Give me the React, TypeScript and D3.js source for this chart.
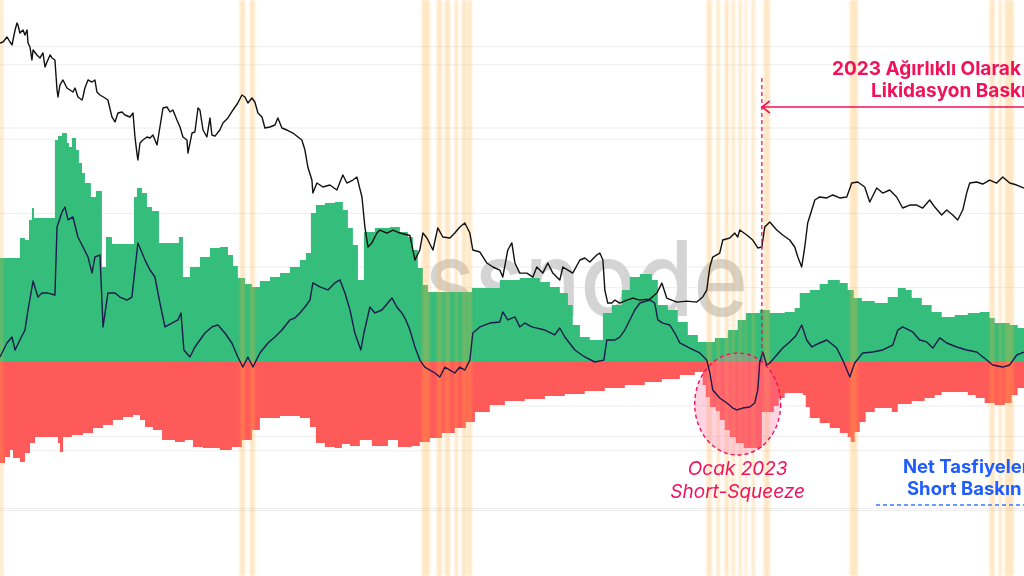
import * as d3 from "d3";
import { useEffect, useRef } from "react";

const W = 1024;
const H = 576;

// x axis runs in days counted from 2021-11-01
const DAY_SPAN = 632;

// BTC price, [day, usd]
const btcPrice: [number, number][] = [
  [0, 61100], [1.9, 61420], [4.3, 62980], [6.2, 61420], [7.4, 60510], [9.3, 65210],
  [10.5, 67530], [11.1, 66860], [12.3, 64240], [14.2, 65210], [15.4, 63600], [16.7, 65210],
  [17.3, 61110], [18.5, 59910], [19.7, 56150], [20.4, 59020], [22.8, 57570], [24.7, 56720],
  [26.5, 58150], [27.8, 54230], [29.0, 55590], [30.9, 57570], [32.1, 56720], [33.9, 56150],
  [35.2, 48350], [35.8, 46690], [37.0, 49570], [38.9, 50820], [41.3, 48830], [43.2, 48350],
  [45.0, 47870], [46.3, 48830], [48.1, 46690], [50.6, 46000], [51.2, 46690], [52.4, 48830],
  [54.3, 50820], [56.8, 50310], [58.6, 50820], [59.8, 47870], [61.7, 47160], [64.8, 46460],
  [66.6, 46000], [69.1, 42260], [71.0, 41220], [72.8, 43100], [75.3, 43330], [77.1, 42680],
  [80.2, 42260], [82.1, 43100], [83.3, 38250], [84.5, 35300], [85.1, 34100], [86.4, 37120],
  [88.2, 37680], [90.7, 38250], [92.6, 38060], [94.4, 38630], [96.9, 36750], [98.7, 40200],
  [100.6, 44200], [103.0, 44420], [104.9, 43330], [106.7, 43760], [109.2, 41630], [111.1, 40200],
  [112.9, 38250], [115.4, 37680], [116.0, 35300], [118.5, 39010], [120.3, 39210], [122.2, 44200],
  [123.4, 43760], [125.3, 39600], [127.7, 38250], [129.6, 42050], [130.8, 38630], [132.7, 38400],
  [135.7, 39600], [137.6, 41010], [140.7, 42050], [143.8, 43760], [146.8, 45310], [149.3, 47160],
  [151.2, 46690], [153.0, 45310], [155.5, 46460], [157.3, 45540], [159.2, 43100], [161.7, 42260],
  [163.5, 40000], [166.6, 40200], [169.7, 40600], [171.5, 42050], [174.0, 40000], [177.1, 39600],
  [180.8, 39010], [183.9, 38250], [186.3, 37680], [188.2, 35840], [190.0, 32930], [192.5, 30860],
  [193.1, 28920], [195.6, 30400], [199.3, 29800], [203.6, 30100], [207.9, 29360], [211.6, 31640],
  [214.1, 30400], [217.8, 30860], [220.3, 31320], [223.4, 28360], [225.2, 24420], [227.1, 22100],
  [229.5, 22550], [232.6, 23690], [234.5, 24050], [238.8, 23690], [242.5, 24050], [246.8, 23690],
  [253.0, 23400], [256.1, 20710], [259.1, 21770], [261.0, 23690], [263.5, 23110], [267.2, 21770],
  [270.2, 24300], [273.3, 23230], [277.7, 23110], [280.7, 23690], [283.8, 24420], [286.9, 24910],
  [290.0, 23690], [291.8, 21770], [296.2, 21550], [300.5, 20400], [304.2, 20000], [308.5, 19700],
  [310.3, 19020], [313.4, 21770], [315.9, 22550], [317.8, 20400], [320.8, 19400], [325.2, 19400],
  [328.9, 19020], [331.3, 20000], [335.0, 19400], [338.1, 20400], [341.2, 19400], [345.5, 18740],
  [347.4, 20000], [350.5, 19700], [353.5, 19400], [357.9, 20710], [360.9, 20920], [364.0, 20500],
  [368.3, 21230], [370.2, 21440], [372.1, 20710], [373.3, 17830], [375.1, 16710], [377.6, 16710],
  [379.5, 16960], [382.5, 16710], [386.9, 16960], [390.6, 17130], [394.9, 16960], [401.1, 17040],
  [405.4, 17560], [408.5, 18460], [411.5, 17130], [417.7, 16790], [423.9, 16870], [430.0, 16790],
  [433.7, 17220], [436.2, 17830], [438.1, 20000], [439.9, 21020], [444.2, 21440], [446.1, 22880],
  [450.4, 23110], [453.5, 23690], [455.3, 23230], [456.6, 24050], [460.9, 23460], [464.6, 22880],
  [467.7, 21990], [470.2, 22100], [472.0, 24420], [475.1, 25030], [479.4, 24050], [483.1, 23460],
  [487.4, 22880], [490.5, 22100], [492.4, 21020], [494.8, 20000], [496.7, 22100], [498.5, 24910],
  [501.0, 26570], [502.9, 27930], [505.9, 28360], [510.3, 28220], [514.0, 28640], [518.3, 28220],
  [522.6, 28360], [525.7, 30400], [529.4, 30560], [533.7, 29800], [536.8, 27660], [541.1, 29650],
  [544.8, 28920], [549.1, 29360], [553.4, 28360], [557.1, 26840], [561.5, 27240], [565.8, 27240],
  [569.5, 26840], [573.8, 27930], [576.9, 26970], [581.2, 25920], [584.3, 26570], [588.0, 25920],
  [591.1, 25280], [594.2, 26570], [596.6, 28920], [598.5, 30400], [602.8, 30560], [606.5, 30250],
  [610.8, 30860], [615.1, 30400], [618.9, 31320], [623.2, 30400], [627.5, 30100], [632, 29650],
];

// 30d long liquidations, [day, $M]
const longLiqs: [number, number][] = [
  [0, 700], [12.3, 835], [15.4, 821], [17.9, 956], [19.7, 1036], [21.0, 969], [33.9, 1494],
  [35.8, 1521], [38.3, 1541], [41.3, 1474], [42.6, 1447], [44.4, 1507], [46.9, 1427],
  [48.7, 1339], [50.6, 1272], [52.4, 1205], [56.1, 1110], [59.2, 1151], [62.9, 639],
  [65.4, 841], [69.1, 794], [82.7, 1110], [84.5, 1171], [87.6, 1137], [90.7, 1043],
  [93.8, 1016], [98.1, 801], [110.4, 841], [112.9, 572], [117.2, 639], [123.4, 707],
  [129.6, 767], [135.7, 774], [140.7, 720], [143.8, 646], [146.8, 565], [151.2, 525],
  [155.5, 505], [160.4, 545], [166.6, 572], [172.8, 599], [178.9, 639], [185.1, 686],
  [188.8, 734], [191.9, 1003], [195.0, 1057], [200.5, 1070], [206.7, 1077], [211.6, 1023],
  [214.7, 902], [217.8, 787], [220.9, 552], [224.6, 875], [231.4, 902], [240.6, 909],
  [246.8, 875], [251.7, 841], [254.8, 754], [257.9, 633], [261.0, 518], [264.1, 471],
  [291.2, 498], [308.5, 552], [320.8, 565], [333.2, 538], [339.4, 505], [345.5, 464],
  [350.5, 384], [353.5, 249], [357.9, 168], [364.0, 148], [372.1, 330], [377.6, 384],
  [383.8, 485], [388.7, 572], [394.9, 592], [402.3, 552], [406.0, 384], [412.2, 350],
  [418.3, 269], [424.5, 182], [430.7, 135], [441.2, 162], [449.2, 215], [455.3, 283],
  [460.3, 330], [468.9, 350], [475.1, 330], [484.3, 337], [490.5, 363], [493.6, 464],
  [499.8, 485], [505.9, 525], [510.9, 552], [518.3, 532], [523.2, 485], [526.9, 431],
  [531.9, 411], [539.9, 397], [547.9, 437], [554.1, 498], [559.0, 485], [562.7, 431],
  [568.9, 384], [575.0, 337], [581.2, 303], [589.2, 316], [597.3, 330], [604.7, 337],
  [610.8, 296], [613.9, 262], [623.2, 249], [628.1, 229], [632, 229],
];

// 30d short liquidations, [day, $M] (drawn below zero)
const shortLiqs: [number, number][] = [
  [0, -680], [3.1, -639], [6.2, -592], [8.0, -646], [12.3, -673], [15.4, -612], [18.5, -545],
  [21.6, -505], [35.8, -545], [37.0, -606], [38.9, -505], [44.4, -491], [51.2, -478],
  [57.4, -444], [63.6, -424], [69.7, -390], [75.9, -370], [82.1, -357], [86.4, -390],
  [89.5, -437], [94.4, -458], [100.0, -525], [108.0, -538], [114.1, -525], [119.1, -572],
  [125.3, -579], [135.7, -592], [143.1, -572], [149.3, -525], [155.5, -458], [160.4, -377],
  [172.8, -363], [185.1, -377], [191.3, -437], [195.0, -545], [200.5, -572], [206.7, -579],
  [211.0, -552], [216.0, -565], [222.1, -525], [229.5, -565], [239.4, -525], [245.6, -572],
  [254.2, -565], [259.1, -538], [265.3, -511], [272.7, -478], [280.7, -444], [287.5, -404],
  [293.1, -337], [302.3, -289], [311.6, -262], [323.9, -249], [336.3, -229], [348.6, -215],
  [360.9, -195], [373.3, -175], [385.6, -155], [398.0, -135], [408.5, -114], [419.6, -87],
  [428.8, -67], [433.7, -155], [435.6, -236], [438.1, -303], [441.8, -330], [444.2, -390],
  [447.3, -458], [450.4, -505], [454.1, -545], [459.0, -579], [470.2, -337], [477.6, -296],
  [480.6, -242], [484.3, -209], [495.5, -222], [497.3, -303], [499.8, -377], [505.9, -411],
  [512.1, -444], [518.3, -478], [523.2, -505], [525.1, -538], [527.5, -471], [530.6, -404],
  [534.3, -337], [539.9, -310], [550.4, -337], [554.1, -283], [562.7, -262], [570.7, -242],
  [576.9, -222], [581.2, -202], [597.3, -222], [602.2, -242], [607.7, -276], [613.9, -289],
  [620.1, -276], [624.4, -222], [628.1, -175], [632, -175],
];

// net liquidations (long - short), [day, $M]
const netLiqs: [number, number][] = [
  [0, 34], [4.3, 128], [7.4, 168], [9.3, 81], [12.3, 148], [15.4, 215], [17.3, 350],
  [20.4, 545], [23.4, 437], [25.9, 464], [29.6, 464], [33.9, 451], [35.2, 909], [38.3, 1010],
  [40.1, 1043], [42.0, 956], [45.0, 976], [48.1, 841], [51.2, 774], [54.3, 707], [56.8, 599],
  [58.6, 707], [61.7, 720], [63.6, 236], [66.6, 464], [71.0, 464], [74.0, 437], [78.4, 417],
  [81.4, 437], [85.1, 801], [89.5, 686], [92.6, 619], [95.6, 572], [98.7, 397], [101.8, 236],
  [106.1, 262], [109.8, 283], [111.7, 330], [113.5, 81], [117.2, 34], [120.3, 101],
  [126.5, 195], [130.8, 236], [134.5, 249], [138.8, 195], [143.1, 128], [146.8, 34],
  [149.9, -34], [153.0, 34], [156.1, -34], [160.4, 61], [165.4, 128], [169.7, 168],
  [174.0, 215], [178.9, 283], [182.0, 296], [185.1, 330], [188.2, 370], [191.3, 417],
  [193.1, 532], [197.4, 505], [202.4, 485], [206.7, 532], [209.8, 552], [212.9, 464],
  [216.0, 350], [219.0, 195], [222.7, 81], [224.6, 195], [228.3, 370], [231.4, 330],
  [235.7, 350], [241.9, 431], [244.9, 370], [248.0, 330], [250.5, 283], [253.0, 215],
  [256.1, 101], [259.1, 13], [262.2, -34], [265.3, -54], [268.4, -74], [271.5, -101],
  [274.6, -34], [277.7, -54], [280.7, -74], [283.8, -34], [286.9, -54], [290.0, 13],
  [291.8, 195], [296.2, 236], [302.3, 262], [308.5, 269], [310.3, 337], [313.4, 283],
  [317.8, 303], [320.8, 236], [323.9, 262], [328.2, 236], [336.3, 215], [342.4, 182],
  [345.5, 229], [348.6, 168], [354.8, 81], [360.9, 34], [367.1, 0], [372.7, 13],
  [374.5, 148], [379.5, 148], [382.5, 168], [385.6, 215], [388.7, 283], [391.8, 350],
  [394.9, 397], [401.1, 417], [404.1, 397], [406.0, 283], [409.1, 262], [413.4, 249],
  [416.5, 195], [419.6, 128], [425.7, 94], [431.9, 61], [436.2, 13], [438.1, -74],
  [439.9, -188], [444.2, -242], [448.6, -276], [452.3, -310], [454.7, -323], [458.4, -310],
  [462.8, -303], [465.8, -276], [467.7, -188], [468.9, 0], [470.8, 67], [473.2, -20],
  [475.1, -7], [479.4, 47], [483.1, 94], [487.4, 135], [491.1, 175], [494.8, 249],
  [497.9, 148], [501.0, 101], [505.9, 128], [510.3, 148], [516.4, 94], [520.1, 13],
  [524.5, -101], [527.5, -7], [532.5, 61], [538.6, 67], [544.8, 81], [551.0, 114],
  [554.1, 215], [557.1, 236], [563.3, 202], [567.6, 148], [572.0, 135], [575.7, 94],
  [580.0, 162], [584.3, 128], [590.5, 101], [596.6, 81], [602.8, 67], [609.0, 13],
  [612.7, -20], [618.9, -34], [623.2, -20], [627.5, 47], [632, 67],
];

// short squeeze periods, [start day, end day]
const squeezeBands: [number, number][] = [
  [0, 1.9], [148.1, 151.2], [154.3, 157.3], [260.4, 265.3], [269.6, 272.7], [274.6, 277.7],
  [280.7, 282.6], [285.1, 288.1], [288.8, 291.2], [436.2, 439.3], [442.4, 444.2],
  [447.3, 449.8], [451.6, 453.5], [456.0, 457.8], [459.7, 460.9], [464.0, 465.8],
  [471.4, 475.1], [524.5, 529.4], [610.8, 613.9], [616.4, 618.2], [620.1, 625.6],
];

const priceTicks = [6000, 8000, 10000, 20000, 40000, 60000];
const liqTicks = [-1000, -500, 500, 1000, 1500, 2000];

const PINK = "#f2125b";
const BLUE = "#1f5cff";

const App = () => {
  const ref = useRef<SVGSVGElement>(null);

  useEffect(() => {
    if (ref && ref.current) ref.current.innerHTML = "";
    const svg = d3.select(ref.current);

    const x = d3.scaleLinear().domain([0, DAY_SPAN]).range([0, W]);
    const yLiq = d3.scaleLinear().domain([-1000, 2000]).range([510.6, 64.8]);
    const yPrice = d3.scaleLog().domain([20000, 40000]).range([267, 128]);

    const defs = svg.append("defs");
    defs.append("filter").attr("id", "soft")
      .attr("x", "-50%").attr("width", "200%")
      .append("feGaussianBlur").attr("stdDeviation", 0.9);

    // faint gridlines for both axes
    const grid = svg.append("g").attr("stroke", "#ededed").attr("stroke-width", 1);
    grid.selectAll("line.pg").data(priceTicks).join("line").attr("class", "pg")
      .attr("x1", 0).attr("x2", W)
      .attr("y1", d => yPrice(d)).attr("y2", d => yPrice(d));
    grid.selectAll("line.lg").data(liqTicks).join("line").attr("class", "lg")
      .attr("x1", 0).attr("x2", W)
      .attr("y1", d => yLiq(d)).attr("y2", d => yLiq(d));

    // watermark, sitting behind the areas (only its right part shows in this crop)
    svg.append("text")
      .attr("x", 425).attr("y", 316)
      .attr("textLength", 323).attr("lengthAdjust", "spacingAndGlyphs")
      .attr("font-family", "Inter, 'Noto Sans', sans-serif")
      .attr("font-size", 104).attr("font-weight", 500)
      .attr("fill", "#d4d4d4")
      .text("ssnode");

    // liquidation areas
    const area = d3.area<[number, number]>()
      .x(d => x(d[0]))
      .y0(yLiq(0))
      .y1(d => yLiq(d[1]))
      .curve(d3.curveStepAfter);

    svg.append("path").datum(longLiqs).attr("fill", "#34bd7b").attr("d", area);
    svg.append("path").datum(shortLiqs).attr("fill", "#ff5a5a").attr("d", area);

    // squeeze bands
    svg.append("g").attr("filter", "url(#soft)")
      .selectAll("rect").data(squeezeBands).join("rect")
      .attr("x", d => x(d[0]))
      .attr("width", d => Math.max(1.5, x(d[1]) - x(d[0])))
      .attr("y", 0).attr("height", H)
      .attr("fill", "#ffb13d").attr("opacity", 0.3);

    // January 2023 squeeze marker
    svg.append("ellipse")
      .attr("cx", x(455.3)).attr("cy", yLiq(-283))
      .attr("rx", 43).attr("ry", 51)
      .attr("fill", "#ff6f9f").attr("fill-opacity", 0.3)
      .attr("stroke", PINK).attr("stroke-width", 1.4).attr("stroke-dasharray", "4 3");

    // net line and price
    const netLine = d3.line<[number, number]>().x(d => x(d[0])).y(d => yLiq(d[1]));
    svg.append("path").datum(netLiqs)
      .attr("fill", "none").attr("stroke", "#1c1b4d").attr("stroke-width", 1.4)
      .attr("stroke-linejoin", "round").attr("d", netLine);

    const priceLine = d3.line<[number, number]>().x(d => x(d[0])).y(d => yPrice(d[1]));
    svg.append("path").datum(btcPrice)
      .attr("fill", "none").attr("stroke", "#111").attr("stroke-width", 1.4)
      .attr("stroke-linejoin", "round").attr("d", priceLine);

    // 2023 annotation: dashed marker + arrow
    const x23 = x(470.2);
    svg.append("line")
      .attr("x1", x23).attr("x2", x23).attr("y1", 78).attr("y2", yLiq(0))
      .attr("stroke", PINK).attr("stroke-width", 1.3).attr("stroke-dasharray", "4 3");
    svg.append("path")
      .attr("d", `M${x23},107H${W}M${x23 + 8},101L${x23},107L${x23 + 8},113`)
      .attr("fill", "none").attr("stroke", PINK).attr("stroke-width", 1.6);

    const font = "Inter, 'Noto Sans', sans-serif";
    const pinkText = svg.append("g")
      .attr("font-family", font).attr("font-size", 19).attr("font-weight", 700)
      .attr("fill", PINK);
    pinkText.append("text").attr("x", 832).attr("y", 75).text("2023 Ağırlıklı Olarak");
    pinkText.append("text").attr("x", 871).attr("y", 97).text("Likidasyon Baskın");

    const squeezeText = svg.append("g")
      .attr("font-family", font).attr("font-size", 19).attr("font-style", "italic")
      .attr("fill", PINK).attr("text-anchor", "middle");
    squeezeText.append("text").attr("x", x(455.3)).attr("y", 475).text("Ocak 2023");
    squeezeText.append("text").attr("x", x(455.3)).attr("y", 498).text("Short-Squeeze");

    const blueText = svg.append("g")
      .attr("font-family", font).attr("font-size", 18.5).attr("font-weight", 700)
      .attr("fill", BLUE);
    blueText.append("text").attr("x", 903).attr("y", 473).text("Net Tasfiyeler");
    blueText.append("text").attr("x", 907).attr("y", 495).text("Short Baskın");
    svg.append("line")
      .attr("x1", 876).attr("x2", W).attr("y1", 505).attr("y2", 505)
      .attr("stroke", "#3b78ff").attr("stroke-width", 1.4).attr("stroke-dasharray", "4 3");
  }, []);

  return (
    <svg
      ref={ref}
      width={W}
      height={H}
      style={{ position: "absolute", left: 0, top: 0, background: "#fff" }}
    />
  );
};

export default App;
